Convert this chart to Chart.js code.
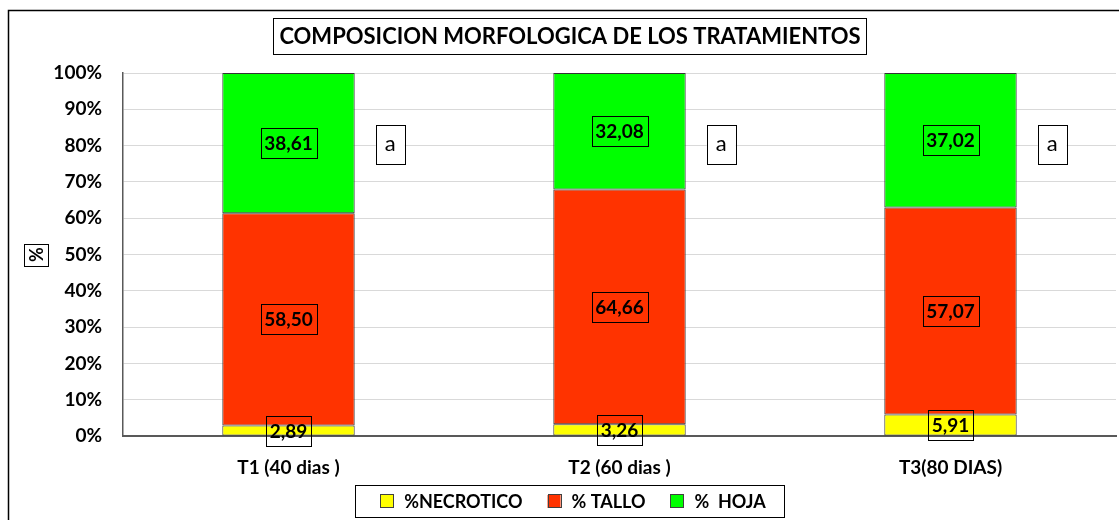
<!DOCTYPE html>
<html>
<head>
<meta charset="utf-8">
<script src="https://cdn.jsdelivr.net/npm/chart.js@4"></script>
<style>
  html, body { margin: 0; padding: 0; background: #fff; }
  #wrap { width: 1119px; height: 520px; position: relative; }
</style>
</head>
<body>
<div id="wrap"><canvas id="chart"></canvas></div>
<script>
// data
const categories = ["T1 (40 dias )", "T2 (60 dias )", "T3(80 DIAS)"];
const necrotico  = [2.89, 3.26, 5.91];
const tallo      = [58.50, 64.66, 57.07];
const hoja       = [38.61, 32.08, 37.02];
const letters    = ["a", "a", "a"];
const letterAt   = [80.5, 80.5, 80.5];   // y value where the letter boxes sit
const yTicks     = [0, 10, 20, 30, 40, 50, 60, 70, 80, 90, 100];

const FONT = "Lato, 'Open Sans', sans-serif";
const TITLE = "COMPOSICION MORFOLOGICA DE LOS TRATAMIENTOS";
const MID_X = 570;   // title / legend centre (the frame runs past the right edge)

function box(c, x, y, w, h) {
  c.strokeRect(Math.round(x) + 0.5, Math.round(y) + 0.5, Math.round(w), Math.round(h));
}

const boxes = {
  id: "boxes",
  beforeDraw(chart) {
    const c = chart.ctx;
    c.save();
    c.fillStyle = "#fff";
    c.fillRect(0, 0, chart.width, chart.height);
    c.strokeStyle = "#000";
    c.lineWidth = 1.5;
    c.strokeRect(8.5, 10.5, 1130, 540);
    c.restore();
  },
  afterDatasetsDraw(chart) {
    const c = chart.ctx;
    c.save();
    c.font = "bold 19px " + FONT;
    c.textAlign = "center";
    c.textBaseline = "middle";
    c.lineWidth = 1;
    chart.data.datasets.forEach((ds, di) => {
      chart.getDatasetMeta(di).data.forEach((bar, i) => {
        const txt = ds.data[i].toFixed(2).replace(".", ",");
        const cy = (bar.y + bar.base) / 2;
        const w = c.measureText(txt).width + 7;
        c.strokeStyle = "#000";
        box(c, bar.x - w / 2, cy - 15, w, 30);
        c.fillStyle = "#000";
        c.fillText(txt, bar.x, cy + 1);
      });
    });
    // significance letters
    c.font = "22px " + FONT;
    chart.getDatasetMeta(0).data.forEach((bar, i) => {
      const x = bar.x + bar.width / 2 + 21;
      const y = chart.scales.y.getPixelForValue(letterAt[i]);
      c.fillStyle = "#fff";
      c.fillRect(x, y - 19, 29, 39);
      c.strokeStyle = "#000";
      box(c, x, y - 19, 29, 39);
      c.fillStyle = "#000";
      c.fillText(letters[i], x + 14.5, y);
    });
    c.restore();
  },
  afterDraw(chart) {
    const c = chart.ctx;
    const ca = chart.chartArea;
    c.save();
    c.strokeStyle = "#000";
    c.fillStyle = "#000";
    c.lineWidth = 1;
    c.textBaseline = "middle";
    c.textAlign = "center";
    // title
    c.font = "bold 22px " + FONT;
    const tw = c.measureText(TITLE).width;
    c.fillText(TITLE, MID_X, 37);
    box(c, MID_X - tw / 2 - 6, 18, tw + 12, 36);
    // y axis title
    const ycy = (ca.top + ca.bottom) / 2;
    c.save();
    c.translate(36, ycy);
    c.rotate(-Math.PI / 2);
    c.font = "bold 18px " + FONT;
    c.fillText("%", 0, 1);
    c.restore();
    box(c, 24, ycy - 11, 24, 22);
    // legend
    c.font = "bold 18px " + FONT;
    c.textAlign = "left";
    const ds = chart.data.datasets;
    const widths = ds.map(d => 13 + 11 + c.measureText(d.label).width);
    const total = widths.reduce((a, b) => a + b, 0) + 25 * (ds.length - 1);
    let x = MID_X - total / 2 + 3;
    const ly = 501;
    box(c, x - 25, 485, total + 43, 32);
    ds.forEach((d, i) => {
      c.fillStyle = d.backgroundColor;
      c.fillRect(x, ly - 6, 13, 13);
      c.strokeStyle = "#404040";
      box(c, x, ly - 7, 13, 13);
      c.fillStyle = "#000";
      c.fillText(d.label, x + 24, ly + 1);
      x += widths[i] + 25;
    });
    c.restore();
  }
};

new Chart(document.getElementById("chart"), {
  type: "bar",
  data: {
    labels: categories,
    datasets: [
      { label: "%NECROTICO", data: necrotico, backgroundColor: "#ffff00" },
      { label: "% TALLO", data: tallo, backgroundColor: "#ff3300" },
      { label: "%  HOJA", data: hoja, backgroundColor: "#00ff00" }
    ]
  },
  options: {
    responsive: true,
    maintainAspectRatio: false,
    animation: false,
    layout: { padding: { left: 12, right: 3, top: 73, bottom: 36 } },
    datasets: {
      bar: { borderColor: "#333333", borderWidth: 1, borderSkipped: false, categoryPercentage: 1, barPercentage: 0.4 }
    },
    scales: {
      x: {
        stacked: true,
        grid: { display: false },
        border: { color: "#595959", width: 2 },
        afterFit: s => { s.height = 48; },
        ticks: { color: "#000", font: { family: FONT, size: 19, weight: "bold" }, padding: 12 }
      },
      y: {
        stacked: true,
        min: 0,
        max: 100,
        afterBuildTicks: s => { s.ticks = yTicks.map(v => ({ value: v })); },
        afterFit: s => { s.width = 111; },
        grid: { color: "#d9d9d9", drawTicks: false },
        border: { color: "#595959", width: 1.5 },
        ticks: { color: "#000", font: { family: FONT, size: 19, weight: "bold" }, padding: 21, callback: v => v + "%" }
      }
    },
    plugins: {
      legend: { display: false },
      tooltip: { enabled: false }
    }
  },
  plugins: [boxes]
});
</script>
</body>
</html>
